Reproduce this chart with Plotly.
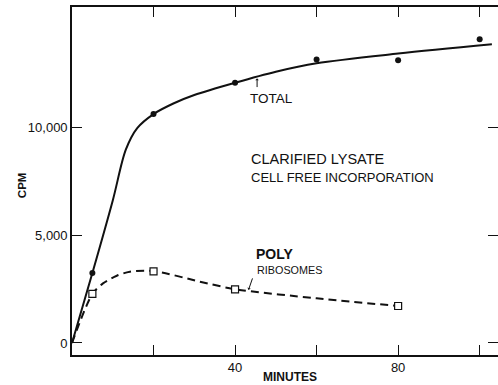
import plotly.graph_objects as go

# Measured incorporation (counts per minute) at each sampling time
total_min = [5, 20, 40, 60, 80, 100]
total_cpm = [3240, 10600, 12050, 13130, 13090, 14060]

poly_min = [5, 20, 40, 80]
poly_cpm = [2270, 3320, 2486, 1713]

# Hand-drawn trend curves through the measurements
total_fit_min = [0, 5, 10, 13.2, 16, 20, 25, 30, 40, 50, 60, 80, 103]
total_fit_cpm = [0, 3240, 6600, 8950, 9950, 10600, 11100, 11480, 12050, 12560, 12950, 13400, 13830]

poly_fit_min = [0, 5, 7.6, 11, 14.2, 20, 31.4, 40, 60, 80]
poly_fit_cpm = [0, 2270, 2760, 3115, 3300, 3330, 2840, 2490, 2070, 1713]

x_tick_vals = [20, 40, 60, 80, 100]
x_tick_text = ["", "40", "", "80", ""]
y_tick_vals = [0, 5000, 10000]
y_tick_text = ["0", "5,000", "10,000"]

X_RANGE = [0, 104.5]
Y_RANGE = [-556, 15557]

FONT = "Liberation Sans, Arial, sans-serif"
INK = "#111111"

fig = go.Figure()

fig.add_trace(go.Scatter(
    x=total_fit_min, y=total_fit_cpm, mode="lines",
    line=dict(color=INK, width=2, shape="spline", smoothing=0.9),
    hoverinfo="skip", showlegend=False,
))
fig.add_trace(go.Scatter(
    x=poly_fit_min, y=poly_fit_cpm, mode="lines",
    line=dict(color=INK, width=2, shape="spline", smoothing=0.8, dash="8px,5px"),
    hoverinfo="skip", showlegend=False,
))
fig.add_trace(go.Scatter(
    x=total_min, y=total_cpm, mode="markers",
    marker=dict(symbol="circle", size=6, color=INK),
    showlegend=False,
))
fig.add_trace(go.Scatter(
    x=poly_min, y=poly_cpm, mode="markers",
    marker=dict(symbol="square", size=7, color="white",
                line=dict(color=INK, width=1.2)),
    showlegend=False,
))
# right-hand axis carries only the mirrored tick marks
fig.add_trace(go.Scatter(x=[None], y=[None], yaxis="y2", mode="markers",
                         hoverinfo="skip", showlegend=False))

annotations = [
    dict(text="TOTAL", x=43.2, y=11300, xanchor="left", yanchor="middle",
         font=dict(size=13.5)),
    dict(text="CLARIFIED LYSATE", x=43.4, y=8520, xanchor="left", yanchor="middle",
         font=dict(size=14.5)),
    dict(text="CELL FREE INCORPORATION", x=43.4, y=7650, xanchor="left",
         yanchor="middle", font=dict(size=13)),
    dict(text="<b>POLY</b>", x=44.7, y=4100, xanchor="left", yanchor="middle",
         font=dict(size=14)),
    dict(text="RIBOSOMES", x=44.8, y=3360, xanchor="left", yanchor="middle",
         font=dict(size=10.8)),
    dict(text="<b>MINUTES</b>", x=53.5, xref="x", y=-0.063, yref="paper",
         xanchor="center", yanchor="middle", font=dict(size=12)),
    dict(text="<b>CPM</b>", x=-0.117, xref="paper", y=7315, yref="y",
         textangle=-90, xanchor="center", yanchor="middle", font=dict(size=11.5)),
    # pointers from the labels to their curves
    dict(text="", x=45.4, y=12250, ax=45.4, ay=11780, axref="x", ayref="y",
         showarrow=True, arrowhead=1, arrowsize=0.6, arrowwidth=1, arrowcolor=INK),
    dict(text="", x=43.3, y=2460, ax=44.4, ay=3060, axref="x", ayref="y",
         showarrow=True, arrowhead=1, arrowsize=0.6, arrowwidth=1, arrowcolor=INK),
]
for a in annotations:
    a.setdefault("xref", "x")
    a.setdefault("yref", "y")
    a.setdefault("showarrow", False)
    a.setdefault("font", {})
    a["font"].update(family=FONT, color=INK)

fig.update_layout(
    width=498, height=385,
    margin=dict(l=72, r=0, t=7, b=30),
    paper_bgcolor="white", plot_bgcolor="white",
    font=dict(family=FONT, color=INK, size=13),
    annotations=annotations,
    xaxis=dict(
        range=X_RANGE, showgrid=False, zeroline=False,
        showline=True, linecolor=INK, linewidth=1.6, mirror="ticks",
        ticks="inside", ticklen=10, tickwidth=1.2, tickcolor=INK,
        tickvals=x_tick_vals, ticktext=x_tick_text,
        tickfont=dict(size=13, family=FONT, color=INK),
    ),
    yaxis=dict(
        range=Y_RANGE, showgrid=False, zeroline=False,
        showline=True, linecolor=INK, linewidth=1.6,
        ticks="inside", ticklen=10, tickwidth=1.2, tickcolor=INK,
        tickvals=y_tick_vals, ticktext=y_tick_text,
        tickfont=dict(size=13, family=FONT, color=INK),
    ),
    yaxis2=dict(
        range=Y_RANGE, overlaying="y", side="right", showgrid=False,
        zeroline=False, showline=False, showticklabels=False,
        ticks="inside", ticklen=10, tickwidth=1.2, tickcolor=INK,
        tickvals=y_tick_vals,
    ),
)

fig.write_html("out.html")
